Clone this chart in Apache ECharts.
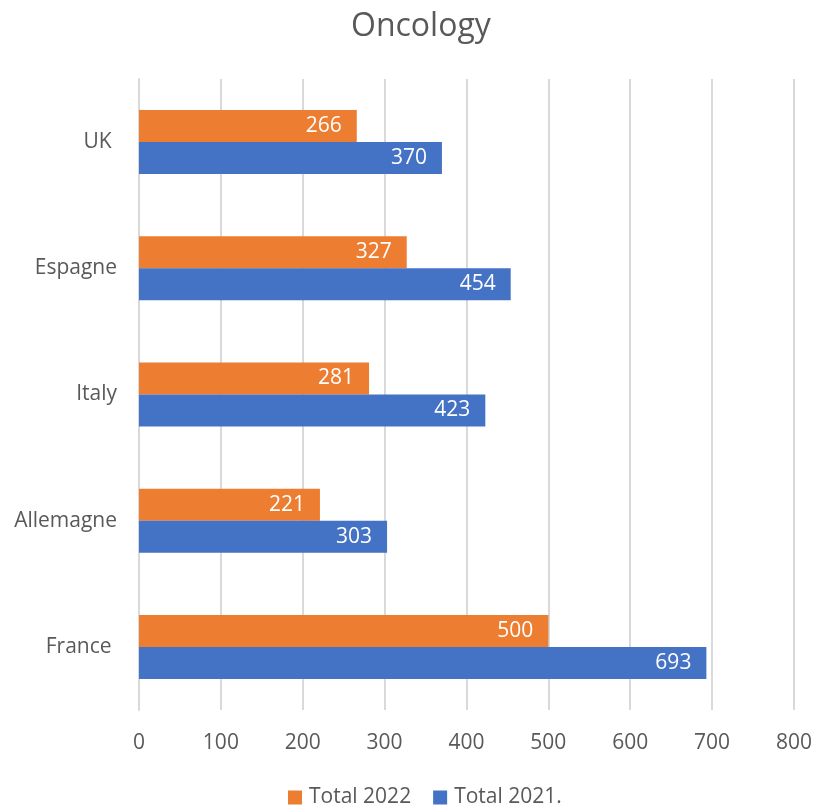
<!DOCTYPE html>
<html><head><meta charset="utf-8">
<script src="https://cdn.jsdelivr.net/npm/echarts@6/dist/echarts.min.js"></script>
<style>html,body{margin:0;padding:0;background:#fff}#c{width:815px;height:805px}</style>
</head><body><div id="c"></div>
<script>
const categories = ['France ', 'Allemagne', 'Italy', 'Espagne', 'UK '];
const total2021 = [693, 303, 423, 454, 370];
const total2022 = [500, 221, 281, 327, 266];
const xTicks = { min: 0, max: 800, interval: 100 };

const font = '"Open Sans", sans-serif';
const chart = echarts.init(document.getElementById('c'));
const labelCfg = { show: true, position: 'insideRight', color: '#fff', fontSize: 21, fontFamily: font, distance: 15 };
chart.setOption({
  animation: false,
  title: { text: 'Oncology', left: 346, top: 6, textStyle: { fontSize: 32, fontWeight: 'normal', color: '#595959', fontFamily: font } },
  legend: {
    top: 782, left: 283, itemWidth: 14, itemHeight: 14, itemGap: 22, icon: 'rect',
    data: ['Total 2022', 'Total 2021.'],
    textStyle: { fontSize: 21, color: '#595959', fontFamily: font, padding: [0, 0, 0, 2] }
  },
  grid: { left: 139, right: 20, top: 79, bottom: 95 },
  xAxis: {
    type: 'value', min: xTicks.min, max: xTicks.max, interval: xTicks.interval,
    axisLine: { show: false }, axisTick: { show: false },
    splitLine: { lineStyle: { color: '#d9d9d9', width: 2 } },
    axisLabel: { fontSize: 21, color: '#595959', fontFamily: font, margin: 23 }
  },
  yAxis: {
    type: 'category', data: categories,
    axisLine: { show: true, lineStyle: { color: '#d9d9d9', width: 2 } },
    axisTick: { show: false },
    axisLabel: { fontSize: 21, color: '#595959', fontFamily: font, margin: 22 }
  },
  series: [
    { name: 'Total 2022', type: 'bar', data: total2022, itemStyle: { color: '#ED7D31' }, barWidth: 32, barGap: '0%', barCategoryGap: '50%', label: labelCfg },
    { name: 'Total 2021.', type: 'bar', data: total2021, itemStyle: { color: '#4472C4' }, barWidth: 32, barGap: '0%', label: labelCfg }
  ]
});
</script></body></html>
